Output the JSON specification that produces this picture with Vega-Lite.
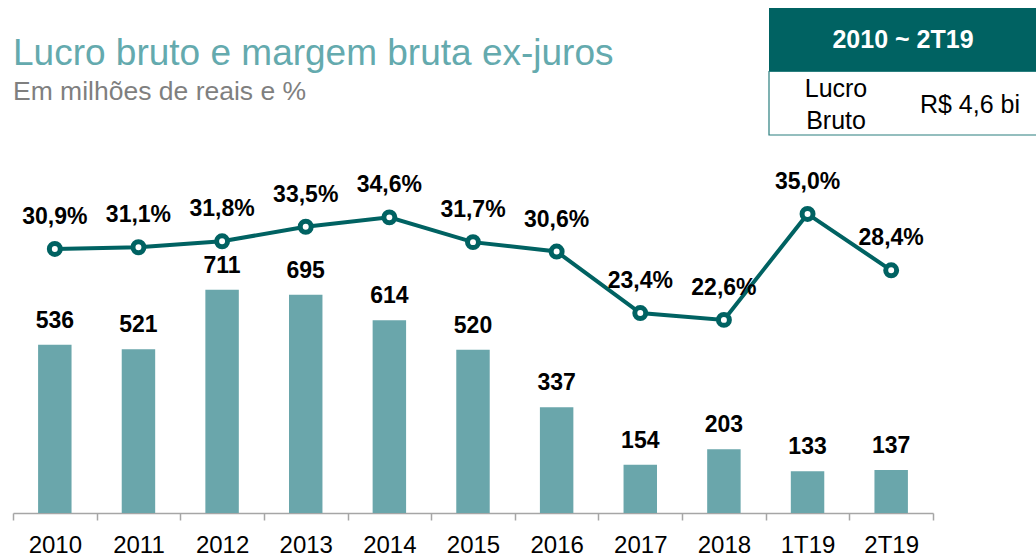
{
  "$schema": "https://vega.github.io/schema/vega-lite/v6.json",
  "padding": {"left": 12, "top": 8, "right": 0, "bottom": 0},
  "background": "white",
  "bounds": "full",
  "spacing": 13,
  "config": {
    "view": {"stroke": null},
    "font": "Liberation Sans",
    "locale": {"number": {"decimal": ",", "thousands": ".", "grouping": [3], "currency": ["R$ ", ""]}}
  },
  "vconcat": [
    {
      "bounds": "flush",
      "spacing": 20,
      "hconcat": [
        {
          "width": 736,
          "height": 127,
          "data": {"values": [{}]},
          "mark": {"type": "point", "opacity": 0},
          "encoding": {},
          "title": {
            "text": "Lucro bruto e margem bruta ex-juros",
            "subtitle": "Em milhões de reais e %",
            "orient": "top",
            "anchor": "start",
            "offset": -98,
            "font": "Liberation Sans",
            "fontSize": 37,
            "fontWeight": "normal",
            "color": "#64AAAE",
            "subtitleFont": "Liberation Sans",
            "subtitleFontSize": 26.5,
            "subtitleColor": "#7F7F7F",
            "subtitlePadding": 6
          }
        },
        {
          "width": 268,
          "height": 127,
          "layer": [
            {
              "data": {"values": [{"linha": "cabecalho"}]},
              "mark": {"type": "rect", "fill": "#006262"},
              "encoding": {
                "y": {"field": "linha", "type": "nominal", "scale": {"domain": ["cabecalho", "corpo"], "paddingInner": 0, "paddingOuter": 0}, "axis": null}
              }
            },
            {
              "data": {"values": [{"linha": "corpo"}]},
              "mark": {"type": "rect", "fill": "white", "stroke": "#2A7F7F", "strokeWidth": 1.2},
              "encoding": {
                "y": {"field": "linha", "type": "nominal", "scale": {"domain": ["cabecalho", "corpo"], "paddingInner": 0, "paddingOuter": 0}, "axis": null}
              }
            },
            {
              "data": {"values": [{"linha": "cabecalho", "texto": "2010 ~ 2T19"}]},
              "mark": {"type": "text", "color": "white", "fontWeight": "bold", "fontSize": 25},
              "encoding": {
                "y": {"field": "linha", "type": "nominal", "scale": {"domain": ["cabecalho", "corpo"], "paddingInner": 0, "paddingOuter": 0}, "axis": null},
                "text": {"field": "texto"}
              }
            },
            {
              "data": {"values": [
                {"linha": "corpo", "coluna": "rotulo", "texto": "Lucro\nBruto"}
              ]},
              "mark": {"type": "text", "color": "black", "fontSize": 25, "lineBreak": "\n", "lineHeight": 32, "dy": -14},
              "encoding": {
                "x": {"field": "coluna", "type": "nominal", "scale": {"domain": ["rotulo", "valor"], "paddingInner": 0, "paddingOuter": 0}, "axis": null},
                "y": {"field": "linha", "type": "nominal", "scale": {"domain": ["cabecalho", "corpo"], "paddingInner": 0, "paddingOuter": 0}, "axis": null},
                "text": {"field": "texto"}
              }
            },
            {
              "data": {"values": [
                {"linha": "corpo", "coluna": "valor", "texto": "R$ 4,6 bi"}
              ]},
              "mark": {"type": "text", "color": "black", "fontSize": 25, "dy": 2},
              "encoding": {
                "x": {"field": "coluna", "type": "nominal", "scale": {"domain": ["rotulo", "valor"], "paddingInner": 0, "paddingOuter": 0}, "axis": null},
                "y": {"field": "linha", "type": "nominal", "scale": {"domain": ["cabecalho", "corpo"], "paddingInner": 0, "paddingOuter": 0}, "axis": null},
                "text": {"field": "texto"}
              }
            }
          ]
        }
      ]
    },
    {
      "width": 920,
      "height": 364,
      "data": {"values": [
        {"periodo": "2010", "lucro": 536, "margem": 0.309},
        {"periodo": "2011", "lucro": 521, "margem": 0.311},
        {"periodo": "2012", "lucro": 711, "margem": 0.318},
        {"periodo": "2013", "lucro": 695, "margem": 0.335},
        {"periodo": "2014", "lucro": 614, "margem": 0.346},
        {"periodo": "2015", "lucro": 520, "margem": 0.317},
        {"periodo": "2016", "lucro": 337, "margem": 0.306},
        {"periodo": "2017", "lucro": 154, "margem": 0.234},
        {"periodo": "2018", "lucro": 203, "margem": 0.226},
        {"periodo": "1T19", "lucro": 133, "margem": 0.350},
        {"periodo": "2T19", "lucro": 137, "margem": 0.284}
      ]},
      "encoding": {
        "x": {
          "field": "periodo", "type": "ordinal", "sort": null,
          "scale": {"paddingInner": 0, "paddingOuter": 0},
          "axis": {
            "title": null, "labelAngle": 0, "labelFontSize": 24, "labelFont": "Liberation Sans",
            "labelColor": "#000000", "tickBand": "extent", "tickSize": 7, "tickColor": "#A6A6A6",
            "tickWidth": 1.5, "domainColor": "#A6A6A6", "domainWidth": 1.5, "labelPadding": 13
          }
        }
      },
      "layer": [
        {
          "mark": {"type": "bar", "color": "#6AA6AB", "width": {"band": 0.4}},
          "encoding": {
            "y": {"field": "lucro", "type": "quantitative", "scale": {"domain": [0, 1159], "nice": false}, "axis": null}
          }
        },
        {
          "mark": {"type": "text", "fontSize": 23, "fontWeight": "bold", "color": "black", "baseline": "alphabetic", "dy": -17},
          "encoding": {
            "y": {"field": "lucro", "type": "quantitative", "scale": {"domain": [0, 1159], "nice": false}, "axis": null},
            "text": {"field": "lucro", "type": "quantitative", "format": "d"}
          }
        },
        {
          "mark": {"type": "line", "color": "#006262", "strokeWidth": 4},
          "encoding": {
            "y": {"field": "margem", "type": "quantitative", "scale": {"domain": [0, 0.426], "nice": false}, "axis": null}
          }
        },
        {
          "mark": {"type": "point", "filled": true, "fill": "white", "stroke": "#006262", "strokeWidth": 5, "size": 120, "opacity": 1},
          "encoding": {
            "y": {"field": "margem", "type": "quantitative", "scale": {"domain": [0, 0.426], "nice": false}, "axis": null}
          }
        },
        {
          "mark": {"type": "text", "fontSize": 23, "fontWeight": "bold", "color": "black", "baseline": "alphabetic", "dy": -25},
          "encoding": {
            "y": {"field": "margem", "type": "quantitative", "scale": {"domain": [0, 0.426], "nice": false}, "axis": null},
            "text": {"field": "margem", "type": "quantitative", "format": ".1%"}
          }
        }
      ],
      "resolve": {"scale": {"y": "independent"}}
    }
  ]
}
